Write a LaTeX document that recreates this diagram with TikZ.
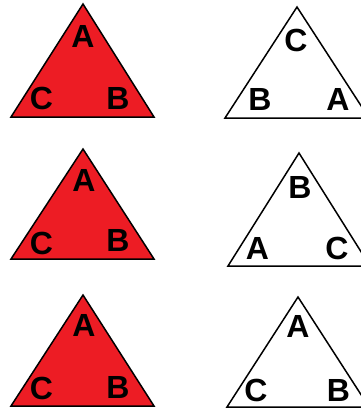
\documentclass[tikz,border=0pt]{standalone}
\usepackage{fontspec}
\setmainfont{Liberation Sans}
\definecolor{trired}{RGB}{237,28,36}
\begin{document}
\begin{tikzpicture}[x=1pt,y=-1pt,
  tri/.style={draw=black,line width=1.5pt,line join=miter},
  redtri/.style={tri,fill=trired},
  whitetri/.style={tri,fill=white},
  lbl/.style={inner sep=0pt,font=\fontsize{32}{32}\selectfont\bfseries}]
\useasboundingbox (0,0) rectangle (361,412);
\clip (0,0) rectangle (361,412);
% left column
\draw[redtri] (83,4) -- (154,117) -- (11,117) -- cycle;
\node[lbl] (a1) at (83,36) {A};
\node[lbl] (c1) at (41.5,98.5) {C};
\node[lbl] (b1) at (118,98.5) {B};
\draw[redtri] (83,149) -- (154,259) -- (11,259) -- cycle;
\node[lbl] (a3) at (84,180) {A};
\node[lbl] (c3) at (41.5,243) {C};
\node[lbl] (b3) at (118,240.5) {B};
\draw[redtri] (83,295) -- (154,406) -- (11,406) -- cycle;
\node[lbl] (a5) at (84,325) {A};
\node[lbl] (c5) at (41.5,388.5) {C};
\node[lbl] (b5) at (118,387.5) {B};
% right column
\draw[whitetri] (297,7) -- (369,118) -- (225,118) -- cycle;
\node[lbl] (c2) at (296,40) {C};
\node[lbl] (b2) at (260,99) {B};
\node[lbl] (a2) at (338,99) {A};
\draw[whitetri] (299,153) -- (370,266) -- (228,266) -- cycle;
\node[lbl] (b4) at (300,187.5) {B};
\node[lbl] (a4) at (257.5,248) {A};
\node[lbl] (c4) at (337,248) {C};
\draw[whitetri] (298,297) -- (369,407) -- (227,407) -- cycle;
\node[lbl] (a6) at (298,326) {A};
\node[lbl] (c6) at (256,390) {C};
\node[lbl] (b6) at (338.5,390) {B};
\end{tikzpicture}
\end{document}
